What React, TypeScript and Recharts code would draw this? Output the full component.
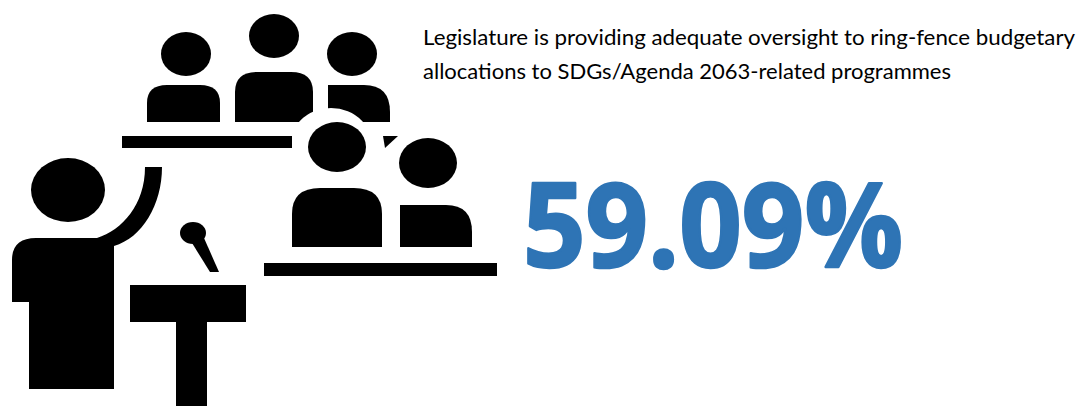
import { BarChart, Bar, XAxis, YAxis, LabelList, Customized } from "recharts";

const categories = ["Legislature oversight"];
const shareValues = [59.09];
const captionLines = [
  "Legislature is providing adequate oversight to ring-fence budgetary",
  "allocations to SDGs/Agenda 2063-related programmes",
];

const chartData = categories.map((name, i) => ({ name, share: shareValues[i] }));

const INK = "#000000";
const BLUE = "#2E74B5";
const FONT = "Lato, sans-serif";

// Pictogram behind the number: audience, speaker and lectern
function Pictogram() {
  return (
    <g fill={INK}>
      {/* back row */}
      <ellipse cx={186} cy={54} rx={25} ry={22} />
      <path d="M147 122 V103 Q147 85 167 85 H200 Q220 85 220 103 V122 Z" />
      <ellipse cx={274} cy={36} rx={25} ry={22} />
      <path d="M235 122 V92 Q235 72 257 72 H291 Q313 72 313 92 V122 Z" />
      <ellipse cx={352} cy={54} rx={25} ry={22} />
      <path d="M328 122 V85 H364 Q390 85 390 112 V122 Z" />
      <circle cx={331} cy={152} r={44} fill="#ffffff" />
      <rect x={122} y={136} width={170} height={12} />
      <path d="M383 136 H398 L385 148 Z" />

      {/* front row */}
      <ellipse cx={337} cy={147} rx={29} ry={25} />
      <path d="M292 247 V214 Q292 188 320 188 H354 Q382 188 382 214 V247 Z" />
      <ellipse cx={428} cy={163} rx={29} ry={25} />
      <path d="M400 247 V205 H446 Q472 205 472 232 V247 Z" />
      <rect x={264} y={263} width={233} height={13} />

      {/* speaker */}
      <ellipse cx={68} cy={190} rx={37} ry={32} />
      <path d="M12 302 V260 Q12 238 36 238 H97 C122 230 145 205 145 167 H162 C162 205 142 238 114 246 V389 H29 V302 Z" />

      {/* microphone and lectern */}
      <ellipse cx={193} cy={233} rx={13} ry={11} />
      <path d="M192 243 L204 238 L219 272 L210 272 Z" />
      <rect x={130} y={285} width={116} height={37} />
      <rect x={176} y={322} width={31} height={84} />
    </g>
  );
}

function Caption() {
  return (
    <g fontFamily={FONT} fontSize={21} fill={INK}>
      <text x={423} y={45} textLength={652} lengthAdjust="spacingAndGlyphs">
        {captionLines[0]}
      </text>
      <text x={423} y={79} textLength={528} lengthAdjust="spacingAndGlyphs">
        {captionLines[1]}
      </text>
    </g>
  );
}

// The value is the only data mark here, shown as a big figure
function BigFigure(props: any) {
  return (
    <text
      x={523}
      y={267}
      fontFamily="'Open Sans', sans-serif"
      fontWeight={700}
      fontSize={116}
      fill={BLUE}
      stroke={BLUE}
      strokeWidth={2.5}
      strokeLinejoin="round"
      textLength={380}
      lengthAdjust="spacingAndGlyphs"
    >
      {`${props.value.toFixed(2)}%`}
    </text>
  );
}

export default function App() {
  return (
    <div style={{ position: "absolute", left: 0, top: 0, width: 1080, height: 406, background: "#fff" }}>
      <BarChart width={1080} height={406} data={chartData} margin={{ top: 0, right: 0, bottom: 0, left: 0 }}>
        <XAxis dataKey="name" hide />
        <YAxis domain={[0, 100]} hide />
        <Customized component={Pictogram} />
        <Customized component={Caption} />
        <Bar dataKey="share" fill="none" isAnimationActive={false}>
          <LabelList dataKey="share" content={BigFigure} />
        </Bar>
      </BarChart>
    </div>
  );
}
